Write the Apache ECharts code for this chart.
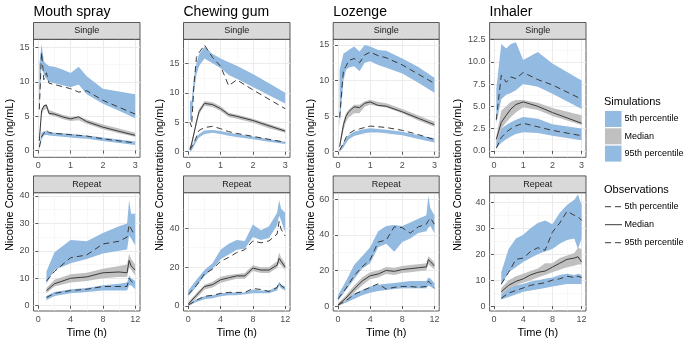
<!DOCTYPE html>
<html><head><meta charset="utf-8">
<script src="https://cdn.jsdelivr.net/npm/echarts@6/dist/echarts.min.js"></script>
<style>html,body{margin:0;padding:0;background:#fff}#c{width:685px;height:342px}</style>
</head><body><div id="c"></div>
<script>
// ---------------- DATA ----------------
const productNames = ['Mouth spray', 'Chewing gum', 'Lozenge', 'Inhaler'];
const regimenNames = ['Single', 'Repeat'];
const simLegend = ['5th percentile', 'Median', '95th percentile'];
const obsLegend = ['5th percentile', 'Median', '95th percentile'];
const singleXTicks = [0, 1, 2, 3];
const repeatXTicks = [0, 4, 8, 12];
const singleYTicks = [[0, 5, 10, 15], [0, 5, 10, 15], [0, 5, 10, 15], [0, 2.5, 5, 7.5, 10, 12.5]];
const repeatYTicks = [[0, 10, 20, 30, 40], [0, 20, 40], [0, 20, 40, 60], [0, 10, 20, 30, 40]];

// Mouth spray – single
const msS_t       = [0.03, 0.1, 0.17, 0.25, 0.33, 0.5, 0.75, 1, 1.25, 1.5, 2, 2.5, 3];
const msS_sim95Lo = [5.5, 13.0, 11.0, 10.4, 10.0, 9.8, 9.5, 9.2, 9.6, 8.2, 6.8, 5.8, 4.7];
const msS_sim95Hi = [12.5, 15.5, 13.0, 12.6, 12.3, 12.2, 11.8, 11.3, 12.2, 10.8, 9.0, 8.6, 8.2];
const msS_obs95   = [6.0, 14.3, 10.3, 11.3, 9.8, 9.6, 9.3, 9.0, 8.5, 8.7, 7.3, 6.3, 5.3];
const msS_simMedLo = [1.1, 5.2, 5.9, 6.1, 5.2, 5.0, 4.6, 4.3, 4.4, 3.9, 3.1, 2.5, 2.0];
const msS_simMedHi = [1.9, 6.0, 6.6, 6.8, 5.9, 5.6, 5.2, 4.9, 5.0, 4.5, 3.8, 3.2, 2.6];
const msS_obsMed  = [1.4, 5.8, 6.5, 6.6, 5.4, 5.3, 4.9, 4.6, 4.9, 4.2, 3.4, 2.8, 2.2];
const msS_sim5Lo  = [0.0, 1.6, 2.2, 2.3, 2.2, 2.1, 2.0, 1.9, 1.8, 1.7, 1.4, 1.1, 0.8];
const msS_sim5Hi  = [0.8, 2.6, 2.8, 2.8, 2.7, 2.6, 2.5, 2.4, 2.3, 2.2, 1.9, 1.6, 1.3];
const msS_obs5    = [0.5, 2.0, 2.5, 3.0, 2.6, 2.5, 2.4, 2.3, 2.2, 2.1, 1.7, 1.4, 1.1];

// Chewing gum – single
const cgS_t       = [0.05, 0.1, 0.17, 0.25, 0.33, 0.5, 0.75, 1, 1.25, 1.5, 2, 2.5, 3];
const cgS_sim95Lo = [5.5, 5.2, 10.0, 13.0, 14.5, 15.8, 15.0, 14.2, 13.0, 12.4, 11.0, 9.6, 8.2];
const cgS_sim95Hi = [8.7, 8.5, 12.5, 15.0, 16.5, 17.8, 16.6, 15.8, 15.2, 14.6, 13.2, 11.6, 10.0];
const cgS_obs95   = [5.0, 4.2, 11.0, 16.0, 16.8, 18.1, 16.0, 14.5, 11.2, 12.2, 10.5, 8.9, 7.3];
const cgS_simMedLo = [0.2, 0.9, 2.5, 4.5, 6.3, 7.8, 7.6, 6.9, 5.9, 5.6, 4.9, 4.0, 3.2];
const cgS_simMedHi = [0.8, 1.6, 3.3, 5.4, 7.2, 8.6, 8.4, 7.7, 6.6, 6.3, 5.6, 4.7, 3.8];
const cgS_obsMed  = [0.5, 1.3, 3.0, 5.0, 6.8, 8.2, 8.0, 7.3, 6.3, 6.0, 5.3, 4.4, 3.5];
const cgS_sim5Lo  = [0.0, 0.2, 0.9, 1.7, 2.4, 3.0, 3.2, 3.0, 2.7, 2.5, 2.1, 1.7, 1.3];
const cgS_sim5Hi  = [0.3, 0.7, 1.6, 2.4, 3.0, 3.6, 3.7, 3.5, 3.2, 3.0, 2.6, 2.1, 1.7];
const cgS_obs5    = [0.3, 0.6, 1.5, 2.5, 3.6, 4.1, 4.3, 3.9, 3.4, 3.1, 2.6, 2.1, 1.6];

// Lozenge – single
const lzS_t       = [0.05, 0.17, 0.25, 0.33, 0.5, 0.67, 0.83, 1, 1.25, 1.5, 2, 2.5, 3];
const lzS_sim95Lo = [3.5, 10.0, 11.5, 11.8, 12.0, 11.3, 12.5, 12.7, 12.2, 11.8, 11.0, 9.7, 8.3];
const lzS_sim95Hi = [11.5, 13.8, 14.0, 14.3, 14.8, 14.1, 15.0, 14.8, 14.3, 14.2, 13.1, 11.9, 10.4];
const lzS_obs95   = [4.8, 11.5, 12.0, 12.8, 13.1, 12.5, 13.6, 14.0, 13.5, 13.2, 12.2, 10.9, 9.6];
const lzS_simMedLo = [0.5, 3.0, 4.2, 4.8, 5.4, 5.4, 6.3, 6.6, 6.4, 6.2, 5.4, 4.4, 3.5];
const lzS_simMedHi = [1.2, 4.3, 5.4, 5.9, 6.6, 6.6, 7.1, 7.3, 7.0, 6.8, 6.0, 5.1, 4.2];
const lzS_obsMed  = [0.7, 3.8, 5.0, 5.6, 6.3, 6.2, 6.8, 7.0, 6.5, 6.4, 5.6, 4.7, 3.8];
const lzS_sim5Lo  = [0.0, 0.6, 1.2, 1.7, 2.2, 2.4, 2.6, 2.7, 2.7, 2.6, 2.3, 1.8, 1.3];
const lzS_sim5Hi  = [0.2, 1.3, 1.9, 2.3, 2.8, 3.0, 3.2, 3.3, 3.2, 3.1, 2.8, 2.3, 1.9];
const lzS_obs5    = [0.2, 1.2, 2.0, 2.5, 3.0, 3.2, 3.4, 3.6, 3.5, 3.4, 3.0, 2.4, 1.7];

// Inhaler – single
const ihS_t       = [0.08, 0.25, 0.42, 0.58, 0.75, 1, 1.5, 2, 3];
const ihS_sim95Lo = [3.1, 5.8, 6.3, 6.5, 6.8, 7.5, 7.2, 6.4, 4.7];
const ihS_sim95Hi = [7.0, 12.0, 11.5, 12.0, 12.2, 10.2, 11.1, 9.8, 7.9];
const ihS_obs95   = [3.5, 8.5, 7.7, 8.3, 8.1, 8.8, 8.0, 7.4, 5.8];
const ihS_simMedLo = [0.8, 2.5, 3.2, 3.8, 4.3, 4.9, 4.6, 3.9, 2.9];
const ihS_simMedHi = [1.6, 4.5, 5.0, 5.5, 5.7, 5.7, 5.4, 4.8, 4.0];
const ihS_obsMed  = [1.3, 3.2, 4.0, 4.7, 5.2, 5.5, 5.0, 4.3, 3.1];
const ihS_sim5Lo  = [0.3, 0.9, 1.3, 1.6, 1.9, 2.1, 2.0, 1.7, 1.2];
const ihS_sim5Hi  = [1.0, 2.5, 2.9, 3.2, 3.5, 3.8, 3.6, 3.0, 2.5];
const ihS_obs5    = [0.3, 1.5, 2.1, 2.5, 2.8, 3.1, 2.7, 2.3, 1.7];

// Mouth spray – repeat
const msR_t       = [1, 2, 4, 6, 8, 10, 11, 11.25, 11.5, 12];
const msR_sim95Lo = [8.0, 13.0, 15.5, 17.0, 19.0, 20.0, 20.5, 25.5, 24.5, 22.0];
const msR_sim95Hi = [12.5, 19.5, 24.0, 23.5, 26.5, 29.0, 30.0, 38.5, 33.5, 33.5];
const msR_obs95   = [9.0, 12.5, 17.5, 18.5, 22.5, 23.5, 25.0, 29.5, 28.0, 25.5];
const msR_simMedLo = [4.5, 7.0, 8.5, 9.0, 10.0, 10.5, 10.5, 14.0, 13.0, 11.0];
const msR_simMedHi = [6.5, 9.5, 11.5, 12.0, 13.5, 14.5, 15.0, 19.0, 17.0, 15.0];
const msR_obsMed  = [5.5, 8.0, 10.0, 10.5, 12.0, 12.3, 12.0, 16.5, 14.5, 13.0];
const msR_sim5Lo  = [2.0, 3.5, 4.5, 5.0, 5.5, 5.5, 5.5, 7.5, 7.5, 6.0];
const msR_sim5Hi  = [3.5, 5.0, 6.0, 6.5, 7.5, 8.0, 8.5, 11.0, 10.0, 9.0];
const msR_obs5    = [3.0, 4.5, 5.5, 6.0, 7.0, 7.0, 7.0, 10.0, 9.0, 7.5];

// Chewing gum – repeat
const cgR_t       = [0, 1, 2, 3, 4, 5, 6, 7, 8, 9, 10, 11, 11.25, 11.5, 12];
const cgR_sim95Lo = [5.0, 10.0, 15.5, 19.0, 24.0, 26.5, 29.0, 29.5, 35.5, 34.0, 35.0, 41.5, 46.5, 44.0, 38.0];
const cgR_sim95Hi = [8.0, 13.5, 18.5, 22.0, 29.0, 32.0, 34.0, 33.5, 42.0, 39.0, 41.0, 48.0, 54.5, 50.0, 48.0];
const cgR_obs95   = [6.0, 10.5, 16.5, 19.0, 23.0, 25.0, 27.5, 29.0, 33.5, 32.5, 33.5, 37.0, 43.5, 39.5, 36.0];
const cgR_simMedLo = [0.0, 4.0, 8.5, 9.5, 12.0, 13.0, 14.0, 14.0, 18.0, 17.0, 17.0, 19.5, 22.0, 21.0, 18.5];
const cgR_simMedHi = [2.0, 6.5, 11.0, 12.5, 15.0, 16.0, 16.5, 17.0, 21.0, 20.0, 20.0, 23.0, 27.5, 25.0, 22.0];
const cgR_obsMed  = [1.0, 5.5, 10.0, 11.0, 13.5, 14.5, 15.5, 15.5, 19.5, 18.5, 18.5, 21.0, 24.5, 23.0, 20.0];
const cgR_sim5Lo  = [0.0, 2.0, 3.5, 4.0, 5.0, 5.5, 5.5, 6.0, 6.5, 6.5, 6.5, 8.0, 10.5, 9.0, 8.0];
const cgR_sim5Hi  = [1.0, 3.5, 5.0, 5.5, 6.5, 7.0, 7.0, 7.0, 8.5, 8.0, 8.0, 10.0, 12.5, 11.0, 10.0];
const cgR_obs5    = [0.5, 3.0, 5.0, 5.5, 6.5, 7.0, 7.0, 7.0, 9.0, 8.5, 7.5, 9.5, 12.0, 10.5, 9.0];

// Lozenge – repeat
const lzR_t       = [0, 1, 2, 3, 4, 5, 6, 7, 8, 9, 10, 11, 11.25, 11.5, 12];
const lzR_sim95Lo = [3.0, 9.0, 15.0, 21.0, 24.0, 33.0, 35.0, 30.5, 36.0, 38.0, 41.0, 42.0, 44.0, 45.0, 41.0];
const lzR_sim95Hi = [6.0, 14.0, 23.0, 28.0, 33.0, 42.0, 45.0, 45.5, 45.0, 47.0, 49.0, 51.0, 62.0, 55.0, 51.0];
const lzR_obs95   = [4.0, 10.0, 17.0, 22.0, 26.0, 36.0, 37.0, 44.5, 44.0, 41.0, 44.5, 46.0, 48.0, 49.5, 46.0];
const lzR_simMedLo = [0.0, 3.0, 7.5, 11.5, 15.0, 16.0, 18.0, 17.5, 18.5, 19.0, 19.5, 20.0, 23.5, 22.5, 20.5];
const lzR_simMedHi = [1.5, 6.0, 11.5, 16.0, 19.0, 20.0, 22.0, 21.5, 22.5, 23.0, 23.5, 24.0, 28.0, 27.0, 24.5];
const lzR_obsMed  = [0.5, 4.5, 9.5, 14.0, 17.0, 18.0, 20.0, 19.5, 20.5, 21.0, 21.5, 22.0, 26.0, 25.0, 22.5];
const lzR_sim5Lo  = [0.0, 2.0, 4.0, 6.0, 7.5, 8.5, 9.0, 9.5, 10.0, 10.0, 10.0, 10.0, 11.5, 11.0, 9.5];
const lzR_sim5Hi  = [1.0, 4.0, 7.0, 9.0, 11.0, 12.0, 12.5, 13.0, 13.5, 14.0, 14.0, 14.0, 16.0, 15.5, 13.0];
const lzR_obs5    = [0.5, 3.0, 6.5, 8.5, 10.5, 12.5, 9.5, 10.5, 11.0, 11.0, 10.5, 11.0, 14.0, 13.0, 10.0];

// Inhaler – repeat
const ihR_t       = [1, 2, 3, 4, 5, 6, 7, 8, 9, 10, 11, 11.5, 12];
const ihR_sim95Lo = [8.0, 13.0, 15.0, 17.0, 18.5, 20.0, 21.0, 22.0, 24.0, 25.5, 26.0, 22.0, 26.0];
const ihR_sim95Hi = [13.0, 22.0, 26.0, 27.5, 30.0, 32.0, 33.0, 31.5, 36.0, 39.0, 41.0, 43.0, 39.0];
const ihR_obs95   = [8.5, 13.0, 18.0, 18.5, 21.0, 22.5, 21.5, 28.5, 32.0, 36.5, 35.0, 34.5, 33.0];
const ihR_simMedLo = [4.5, 6.5, 8.0, 9.0, 10.0, 11.0, 12.0, 13.0, 14.0, 15.0, 15.5, 16.0, 16.0];
const ihR_simMedHi = [7.0, 10.0, 11.5, 12.5, 13.5, 14.5, 16.5, 16.5, 18.5, 19.5, 20.5, 22.5, 22.0];
const ihR_obsMed  = [5.5, 8.0, 9.5, 10.5, 12.0, 13.0, 13.5, 15.0, 16.5, 18.0, 18.5, 19.0, 17.0];
const ihR_sim5Lo  = [2.5, 3.5, 4.5, 5.5, 6.0, 6.5, 7.0, 7.5, 8.0, 8.5, 8.5, 8.5, 8.5];
const ihR_sim5Hi  = [4.5, 7.0, 8.0, 8.5, 9.5, 10.0, 10.5, 11.0, 12.0, 12.5, 12.0, 12.5, 12.0];
const ihR_obs5    = [3.0, 5.0, 6.0, 7.0, 8.0, 8.5, 9.0, 10.0, 10.5, 11.5, 11.0, 11.5, 11.0];

// ---------------- PANEL WIRING ----------------
const panels = [
  {t: msS_t, s95: [msS_sim95Lo, msS_sim95Hi], sMed: [msS_simMedLo, msS_simMedHi], s5: [msS_sim5Lo, msS_sim5Hi], o95: msS_obs95, oMed: msS_obsMed, o5: msS_obs5},
  {t: cgS_t, s95: [cgS_sim95Lo, cgS_sim95Hi], sMed: [cgS_simMedLo, cgS_simMedHi], s5: [cgS_sim5Lo, cgS_sim5Hi], o95: cgS_obs95, oMed: cgS_obsMed, o5: cgS_obs5},
  {t: lzS_t, s95: [lzS_sim95Lo, lzS_sim95Hi], sMed: [lzS_simMedLo, lzS_simMedHi], s5: [lzS_sim5Lo, lzS_sim5Hi], o95: lzS_obs95, oMed: lzS_obsMed, o5: lzS_obs5},
  {t: ihS_t, s95: [ihS_sim95Lo, ihS_sim95Hi], sMed: [ihS_simMedLo, ihS_simMedHi], s5: [ihS_sim5Lo, ihS_sim5Hi], o95: ihS_obs95, oMed: ihS_obsMed, o5: ihS_obs5},
  {t: msR_t, s95: [msR_sim95Lo, msR_sim95Hi], sMed: [msR_simMedLo, msR_simMedHi], s5: [msR_sim5Lo, msR_sim5Hi], o95: msR_obs95, oMed: msR_obsMed, o5: msR_obs5},
  {t: cgR_t, s95: [cgR_sim95Lo, cgR_sim95Hi], sMed: [cgR_simMedLo, cgR_simMedHi], s5: [cgR_sim5Lo, cgR_sim5Hi], o95: cgR_obs95, oMed: cgR_obsMed, o5: cgR_obs5},
  {t: lzR_t, s95: [lzR_sim95Lo, lzR_sim95Hi], sMed: [lzR_simMedLo, lzR_simMedHi], s5: [lzR_sim5Lo, lzR_sim5Hi], o95: lzR_obs95, oMed: lzR_obsMed, o5: lzR_obs5},
  {t: ihR_t, s95: [ihR_sim95Lo, ihR_sim95Hi], sMed: [ihR_simMedLo, ihR_simMedHi], s5: [ihR_sim5Lo, ihR_sim5Hi], o95: ihR_obs95, oMed: ihR_obsMed, o5: ihR_obs5}
];

// ---------------- LAYOUT / STYLE ----------------
const FONT = '"Liberation Sans", Arial, Helvetica, sans-serif';
const colLeft = [33.5, 183.5, 333.2, 489.6];
const colWidth = [106.5, 106.5, 106, 96.4];
const rowTop = [39.3, 192.7];
const rowHeight = [118, 118.3];
const stripH = 16.8;
const yRangeSingle = [[-0.99, 16.19], [-0.95, 19.08], [-0.79, 15.8], [-0.72, 12.52]];
const yRangeRepeat = [[-1.93, 41.2], [-2.57, 58.3], [-2.8, 63.7], [-1.9, 43.7]];
const BLUE = '#93BAE0', GREY = '#C0C0C0', LINE = '#3A3A3A';

const grids = [], xAxes = [], yAxes = [], series = [], graphics = [];

function pairs(t, v) { return t.map((x, i) => [x, v[i]]); }

function bandRenderer(color) {
  return function (params, api) {
    if (params.dataIndexInside !== 0) return null;
    const n = params.dataInsideLength;
    const top = [], bot = [];
    for (let k = 0; k < n; k++) {
      const x = api.value(0, k);
      top.push(api.coord([x, api.value(2, k)]));
      bot.push(api.coord([x, api.value(1, k)]));
    }
    return {type: 'polygon', shape: {points: top.concat(bot.reverse())}, style: {fill: color, stroke: null}, silent: true};
  };
}

panels.forEach((p, i) => {
  const col = i % 4, row = Math.floor(i / 4);
  grids.push({left: colLeft[col], top: rowTop[row], width: colWidth[col], height: rowHeight[row],
    show: true, backgroundColor: '#fff', borderColor: '#333', borderWidth: 0.8, containLabel: false, outerBoundsMode: 'none'});
  const xt = row === 0 ? singleXTicks : repeatXTicks;
  const xiv = row === 0 ? 1 : 4;
  const xr = row === 0 ? [-0.15, 3.15] : [-0.6, 12.6];
  const yt = row === 0 ? singleYTicks[col] : repeatYTicks[col];
  const yiv = yt[1] - yt[0];
  const yr = row === 0 ? yRangeSingle[col] : yRangeRepeat[col];
  const mk = (ticks) => ({
    axisLine: {show: false},
    axisTick: {show: true, length: 3, customValues: ticks, lineStyle: {color: '#333', width: 0.8}},
    splitLine: {show: true, lineStyle: {color: '#EBEBEB', width: 1}},
    minorTick: {show: false, splitNumber: 2},
    minorSplitLine: {show: true, lineStyle: {color: '#F4F4F4', width: 0.6}}
  });
  xAxes.push(Object.assign({gridIndex: i, type: 'value', min: xr[0], max: xr[1], minInterval: xiv, maxInterval: xiv,
    axisLabel: {customValues: xt, color: '#4D4D4D', fontSize: 9, fontFamily: FONT, margin: 4}}, mk(xt)));
  yAxes.push(Object.assign({gridIndex: i, type: 'value', min: yr[0], max: yr[1], minInterval: yiv, maxInterval: yiv,
    axisLabel: {customValues: yt, color: '#4D4D4D', fontSize: 9, fontFamily: FONT, margin: 4,
      formatter: (row === 0 && col === 3) ? (v => v.toFixed(1)) : (v => String(v))}}, mk(yt)));

  const band = (lohi, color) => {
    const [lo, hi] = lohi;
    series.push({type: 'custom', xAxisIndex: i, yAxisIndex: i, data: p.t.map((x, k) => [x, lo[k], hi[k]]),
      encode: {x: 0, y: [1, 2]}, renderItem: bandRenderer(color), silent: true, z: 2, animation: false, clip: true});
  };
  band(p.s5, BLUE);
  band(p.sMed, GREY);
  band(p.s95, BLUE);
  const obsLine = (v, dashed) => series.push({type: 'line', xAxisIndex: i, yAxisIndex: i, data: pairs(p.t, v), symbol: 'none',
    lineStyle: {color: LINE, width: 1, type: dashed ? [6, 4] : 'solid'}, silent: true, z: 3, animation: false});
  obsLine(p.o5, true);
  obsLine(p.oMed, false);
  obsLine(p.o95, true);

  // strip
  graphics.push({type: 'rect', shape: {x: colLeft[col], y: rowTop[row] - stripH, width: colWidth[col], height: stripH},
    style: {fill: '#D9D9D9', stroke: '#333', lineWidth: 0.8}, z: 10});
  graphics.push({type: 'text', x: colLeft[col] + colWidth[col] / 2, y: rowTop[row] - stripH / 2,
    style: {text: regimenNames[row], fill: '#1A1A1A', font: '9px ' + FONT, textAlign: 'center', textVerticalAlign: 'middle'}, z: 11});
});

// column titles, axis titles
const yTitleX = [10, 160, 311, 458];
productNames.forEach((name, col) => {
  graphics.push({type: 'text', x: colLeft[col], y: 12.5,
    style: {text: name, fill: '#000', font: '14px ' + FONT, textAlign: 'left', textVerticalAlign: 'middle'}});
  graphics.push({type: 'text', x: yTitleX[col], y: 175, rotation: Math.PI / 2,
    style: {text: 'Nicotine Concentration (ng/mL)', fill: '#000', font: '11px ' + FONT, textAlign: 'center', textVerticalAlign: 'middle'}});
  graphics.push({type: 'text', x: colLeft[col] + colWidth[col] / 2, y: 333,
    style: {text: 'Time (h)', fill: '#000', font: '11px ' + FONT, textAlign: 'center', textVerticalAlign: 'middle'}});
});

// legends
graphics.push({type: 'text', x: 604, y: 101.5, style: {text: 'Simulations', fill: '#000', font: '11px ' + FONT, textVerticalAlign: 'middle'}});
const simColors = [BLUE, GREY, BLUE];
simLegend.forEach((lab, k) => {
  const y0 = 111 + k * 17.3;
  graphics.push({type: 'rect', shape: {x: 605, y: y0, width: 16.5, height: 16}, style: {fill: simColors[k]}});
  graphics.push({type: 'text', x: 624.5, y: y0 + 8, style: {text: lab, fill: '#000', font: '9px ' + FONT, textVerticalAlign: 'middle'}});
});
graphics.push({type: 'text', x: 604, y: 190, style: {text: 'Observations', fill: '#000', font: '11px ' + FONT, textVerticalAlign: 'middle'}});
obsLegend.forEach((lab, k) => {
  const yc = 206.7 + k * 18;
  graphics.push({type: 'line', shape: {x1: 605, y1: yc, x2: 622, y2: yc},
    style: {stroke: LINE, lineWidth: 1, lineDash: k === 1 ? null : [6, 4]}});
  graphics.push({type: 'text', x: 624.5, y: yc, style: {text: lab, fill: '#000', font: '9px ' + FONT, textVerticalAlign: 'middle'}});
});

const chart = echarts.init(document.getElementById('c'), null, {renderer: 'canvas'});
chart.setOption({
  animation: false,
  backgroundColor: '#fff',
  textStyle: {fontFamily: FONT},
  grid: grids, xAxis: xAxes, yAxis: yAxes, series: series, graphic: graphics
});
</script></body></html>
